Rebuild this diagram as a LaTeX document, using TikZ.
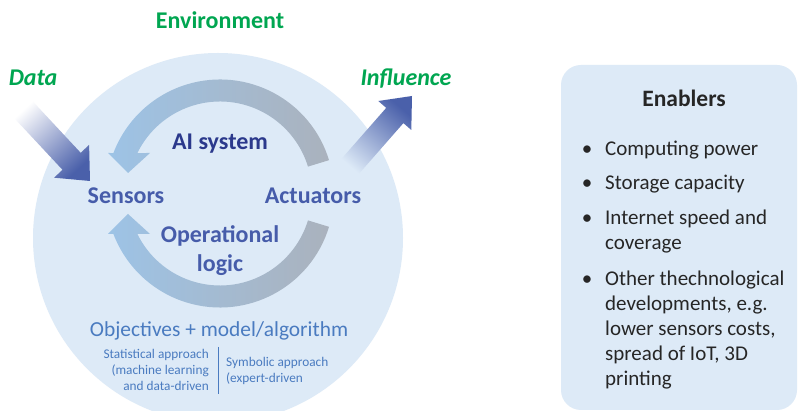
\documentclass[tikz,border=0pt]{standalone}
\usepackage{fontspec}
\setmainfont{Carlito}
\usetikzlibrary{calc}
\definecolor{bgblue}{RGB}{221,234,247}
\definecolor{envgreen}{RGB}{0,166,81}
\definecolor{navy}{RGB}{43,57,140}
\definecolor{partblue}{RGB}{70,92,170}
\definecolor{objblue}{RGB}{74,123,192}
\definecolor{arcblue}{RGB}{157,195,230}
\definecolor{arcgray}{RGB}{170,178,189}
\definecolor{flowblue}{RGB}{74,96,170}
\definecolor{ink}{RGB}{38,38,38}
\begin{document}
\begin{tikzpicture}[x=1pt, y=1pt, inner sep=0pt,
  green/.style = {text=envgreen, font=\fontsize{24}{28}\selectfont\bfseries, anchor=base},
  part/.style = {text=partblue, font=\fontsize{24}{29}\selectfont\bfseries, align=center, anchor=base},
  small/.style = {text=objblue, font=\fontsize{13.3}{16}\selectfont},
  item/.style = {text=ink, font=\fontsize{21}{25}\selectfont, align=left, anchor=base west},
  dot/.style = {text=ink, font=\fontsize{21}{25}\selectfont, anchor=base},
  loop/.style = {left color=arcblue, right color=arcgray}]
\path[use as bounding box, clip] (0,0) rectangle (798,411);
\fill[white] (0,0) rectangle (798,411);

\fill[bgblue] (218,173) circle (185);
\fill[bgblue, rounded corners=20] (561,1) rectangle (797,346);

\coordinate (c) at (220,217.5);
\shade[loop] ($(c)+(17:114)$) arc[start angle=17, end angle=159.2, radius=114]
  -- (108,258) -- (128,238) -- (150,258)
  -- ($(c)+(153.9:92)$) arc[start angle=153.9, end angle=17, radius=92] -- cycle;
\shade[loop] ($(c)+(-17:114)$) arc[start angle=-17, end angle=-159.2, radius=114]
  -- (108,177) -- (128,197) -- (150,177)
  -- ($(c)+(-153.9:92)$) arc[start angle=-153.9, end angle=-17, radius=92] -- cycle;

\shade[top color=white, bottom color=flowblue, shading angle=43]
  (29.1,313.5) -- (80.7,258.2) -- (89.1,266.1) -- (90,230) -- (54.1,233.3)
  -- (62.5,241.2) -- (10.9,296.5) -- cycle;
\shade[top color=flowblue, bottom color=bgblue, shading angle=-41]
  (355.6,233.4) -- (403.4,287.9) -- (411.3,281) -- (412,315) -- (378.3,310)
  -- (386.2,303.1) -- (338.4,248.6) -- cycle;

\node[green] (env) at (220,382) {Environment};
\node[green, font=\fontsize{24}{28}\selectfont\bfseries\itshape] (data) at (33,325) {Data};
\node[green, font=\fontsize{24}{28}\selectfont\bfseries\itshape] (infl) at (406,325) {Influence};

\node[part, text=navy] (ai) at (220,261) {AI system};
\node[part] (sens) at (126,207) {Sensors};
\node[part] (act) at (313,207) {Actuators};
\node[part] (oplogic) at (220,139) {Operational\\logic};

\node[small, anchor=base, font=\fontsize{21.4}{25}\selectfont] (obj) at (219,74) {Objectives + model/algorithm};
\node[small, anchor=base east, align=right] (stat) at (209,20) {Statistical approach\\(machine learning\\and data-driven};
\node[small, anchor=base west, align=left] (symb) at (226,28) {Symbolic approach\\(expert-driven};
\coordinate (divtop) at (218,64);
\coordinate (divbot) at (218,17);
\draw[objblue, line width=0.9] (divtop) -- (divbot);

\node[anchor=base, text=ink, font=\fontsize{23.5}{28}\selectfont\bfseries] (enab) at (684,304) {Enablers};
\node[item] (i1) at (605,255) {Computing power};
\node[item] (i2) at (605,221) {Storage capacity};
\node[item] (i3) at (605,161) {Internet speed and\\coverage};
\node[item] (i4) at (605,25) {Other thechnological\\developments, e.g.\\lower sensors costs,\\spread of IoT, 3D\\printing};
\node[dot] (b1) at (587,255) {\textbullet};
\node[dot] (b2) at (587,221) {\textbullet};
\node[dot] (b3) at (587,186) {\textbullet};
\node[dot] (b4) at (587,125) {\textbullet};
\end{tikzpicture}
\end{document}
